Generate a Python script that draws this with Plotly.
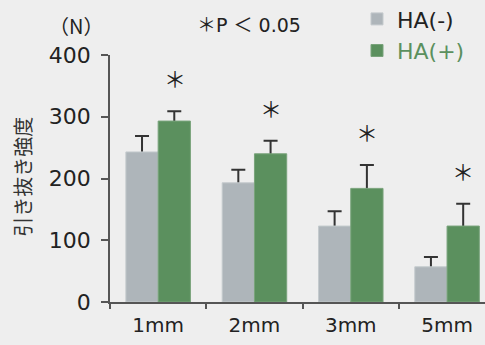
import plotly.graph_objects as go

categories = ["1mm", "2mm", "3mm", "5mm"]
ha_minus = [243, 193, 123, 57]
ha_minus_err = [26, 21, 24, 16]
ha_plus = [293, 240, 184, 123]
ha_plus_err = [16, 21, 38, 36]
y_ticks = [0, 100, 200, 300, 400]

GREY = "#aeb5ba"
GREEN = "#5b905e"
BG = "#eeeeee"
TXT = "#222222"
FONT = "DejaVu Sans, Noto Sans CJK JP, sans-serif"
CJK = "Noto Sans CJK JP, DejaVu Sans, sans-serif"

fig = go.Figure()
# error bars (drawn underneath, so only the part above each bar shows)
for vals, errs in ((ha_minus, ha_minus_err), (ha_plus, ha_plus_err)):
    fig.add_trace(go.Bar(
        x=categories, y=vals, showlegend=False, hoverinfo="skip",
        marker=dict(color="rgba(0,0,0,0)", line=dict(width=0)),
        error_y=dict(type="data", array=errs, symmetric=False, arrayminus=[10] * len(errs),
                     color="#333333", thickness=2, width=7),
        xaxis="x", yaxis="y",
    ))
# bars on an overlaying subplot, drawn above the error bar stems
fig.add_trace(go.Bar(
    x=categories, y=ha_minus, name="HA(-)",
    marker=dict(color=GREY, line=dict(color="#c4cacd", width=1)),
    legendgroup="a", xaxis="x2", yaxis="y2",
))
fig.add_trace(go.Bar(
    x=categories, y=ha_plus, name="<span style='color:%s'>HA(+)</span>" % GREEN,
    marker=dict(color=GREEN, line=dict(color="#79a37b", width=1)),
    legendgroup="b", xaxis="x2", yaxis="y2",
))

annotations = []
for i, c in enumerate(categories):
    annotations.append(dict(
        x=i + 0.17, y=ha_plus[i] + ha_plus_err[i], xref="x", yref="y",
        text="＊", showarrow=False, yanchor="middle", yshift=34,
        font=dict(family=CJK, size=22, color=TXT),
    ))
annotations += [
    dict(x=(76 - 110) / 375, y=1 + (55 - 25) / 247.5, xref="paper", yref="paper",
         text="（N）", showarrow=False, xanchor="center", yanchor="middle",
         font=dict(family=CJK, size=20, color=TXT)),
    dict(x=(249 - 110) / 375, y=1 + (55 - 25) / 247.5, xref="paper", yref="paper",
         text="＊P ＜ 0.05", showarrow=False, xanchor="center", yanchor="middle",
         font=dict(family=FONT, size=19, color=TXT)),
    dict(x=(23 - 110) / 375, y=(302.5 - 177) / 247.5, xref="paper", yref="paper",
         text="引き抜き強度", showarrow=False, textangle=-90, xanchor="center", yanchor="middle",
         font=dict(family=CJK, size=20, color="#333333")),
]

xcommon = dict(range=[-0.5, 3.394], showgrid=False, zeroline=False, fixedrange=True)
ycommon = dict(range=[0, 400], showgrid=False, zeroline=False, fixedrange=True)

fig.update_layout(
    width=485, height=345,
    margin=dict(l=110, r=0, t=55, b=42.5, pad=0, autoexpand=False),
    paper_bgcolor=BG, plot_bgcolor=BG,
    barmode="group", bargap=0.33, bargroupgap=0,
    font=dict(family=FONT, color=TXT),
    showlegend=True,
    legend=dict(x=(357 - 110) / 375, y=1 + (55 + 2) / 247.5, xanchor="left", yanchor="top",
                bgcolor="rgba(0,0,0,0)", font=dict(family=FONT, size=22, color=TXT),
                tracegroupgap=4, traceorder="normal"),
    annotations=annotations,
    xaxis=dict(**xcommon, showline=True, linecolor="#555555", linewidth=1.5,
               ticks="outside", tickson="boundaries", ticklen=5, tickcolor="#555555",
               tickwidth=1.5, tickfont=dict(family=FONT, size=20, color=TXT),
               ticklabelstandoff=4),
    yaxis=dict(**ycommon, tickvals=y_ticks, showline=True, linecolor="#555555",
               linewidth=1.5, ticks="outside", ticklen=7, tickcolor="#555555", tickwidth=1.5,
               tickfont=dict(family=FONT, size=22, color=TXT), ticklabelstandoff=6),
    xaxis2=dict(**xcommon, overlaying="x", matches="x", visible=False),
    yaxis2=dict(**ycommon, overlaying="y", matches="y", visible=False),
)

fig.write_html("out.html", config={"displayModeBar": False},
               post_script="document.body.style.margin='0';")
